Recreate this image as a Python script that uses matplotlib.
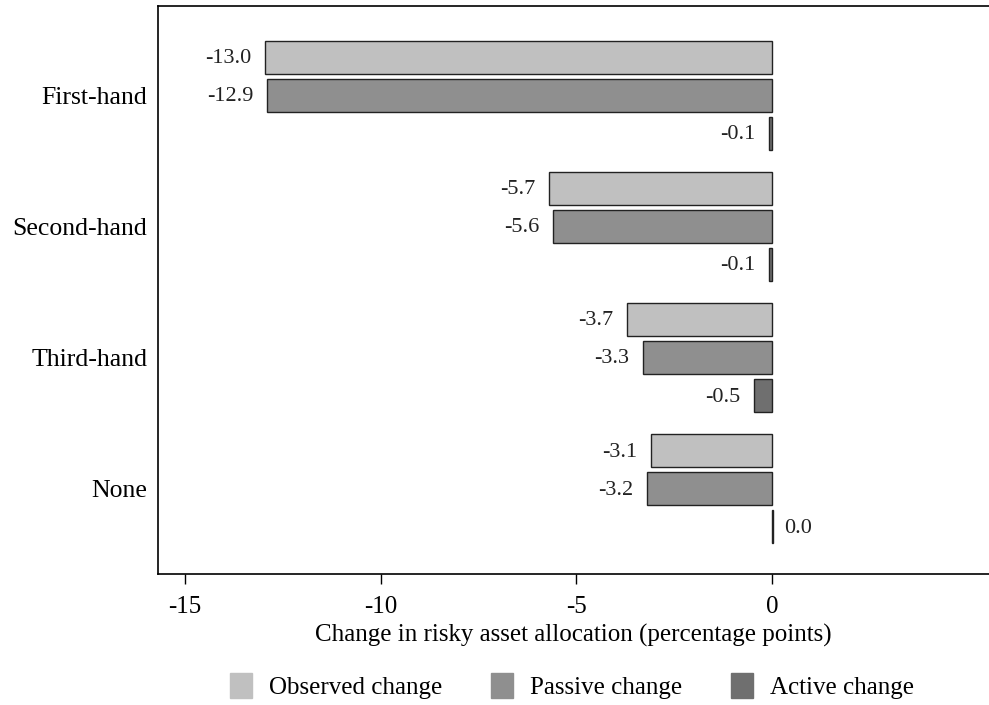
import matplotlib.pyplot as plt
import numpy as np

plt.rcParams['font.family'] = ['Liberation Serif', 'DejaVu Serif']

# data
groups = ['First-hand', 'Second-hand', 'Third-hand', 'None']
observed = [-12.96, -5.7, -3.7, -3.1]
passive = [-12.9, -5.6, -3.3, -3.2]
active = [-0.08, -0.08, -0.46, 0.03]
series_names = ['Observed change', 'Passive change', 'Active change']
series_colors = ['#c0c0c0', '#8f8f8f', '#6f6f6f']

fig = plt.figure(figsize=(9.89, 7.05), dpi=100)
ax = fig.add_axes([0.16, 0.186, 0.84, 0.805])

y = np.arange(len(groups))
offsets = [-0.29, 0.0, 0.29]
height = 0.255

for vals, name, col, off in zip([observed, passive, active], series_names, series_colors, offsets):
    bars = ax.barh(y + off, vals, height=height, color=col, edgecolor='#222222',
                   linewidth=1.0, label=name)
    for rect, v in zip(bars, vals):
        yc = rect.get_y() + rect.get_height() / 2
        if v < 0:
            ax.annotate(f'{v:.1f}', (v, yc), textcoords='offset points', xytext=(-10, -1),
                        ha='right', va='center', fontsize=16, color='#222222')
        else:
            ax.annotate(f'{v:.1f}', (v, yc), textcoords='offset points', xytext=(8, -1),
                        ha='left', va='center', fontsize=16, color='#222222')

ax.set_xlim(-15.69, 5.55)
ax.set_ylim(3.65, -0.68)
ax.set_xticks([-15, -10, -5, 0])
ax.set_xticklabels(['-15', '-10', '-5', '0'])
ax.set_yticks(y)
ax.set_yticklabels(groups)
ax.tick_params(axis='x', labelsize=18, length=7, width=1, pad=9)
ax.tick_params(axis='y', labelsize=18.5, length=0, pad=8)
ax.spines['right'].set_visible(False)
for s in ['left', 'bottom', 'top']:
    ax.spines[s].set_linewidth(1.2)
ax.set_xlabel('Change in risky asset allocation (percentage points)', fontsize=18, labelpad=4)

handles = [plt.Rectangle((0, 0), 1, 1, color=c) for c in series_colors]
fig.legend(handles, series_names, loc='center', bbox_to_anchor=(0.578, 0.027),
           ncol=3, frameon=False, fontsize=18, handlelength=0.88, handleheight=1.15,
           columnspacing=1.95, handletextpad=0.68)

plt.savefig('out.png', dpi=100)
